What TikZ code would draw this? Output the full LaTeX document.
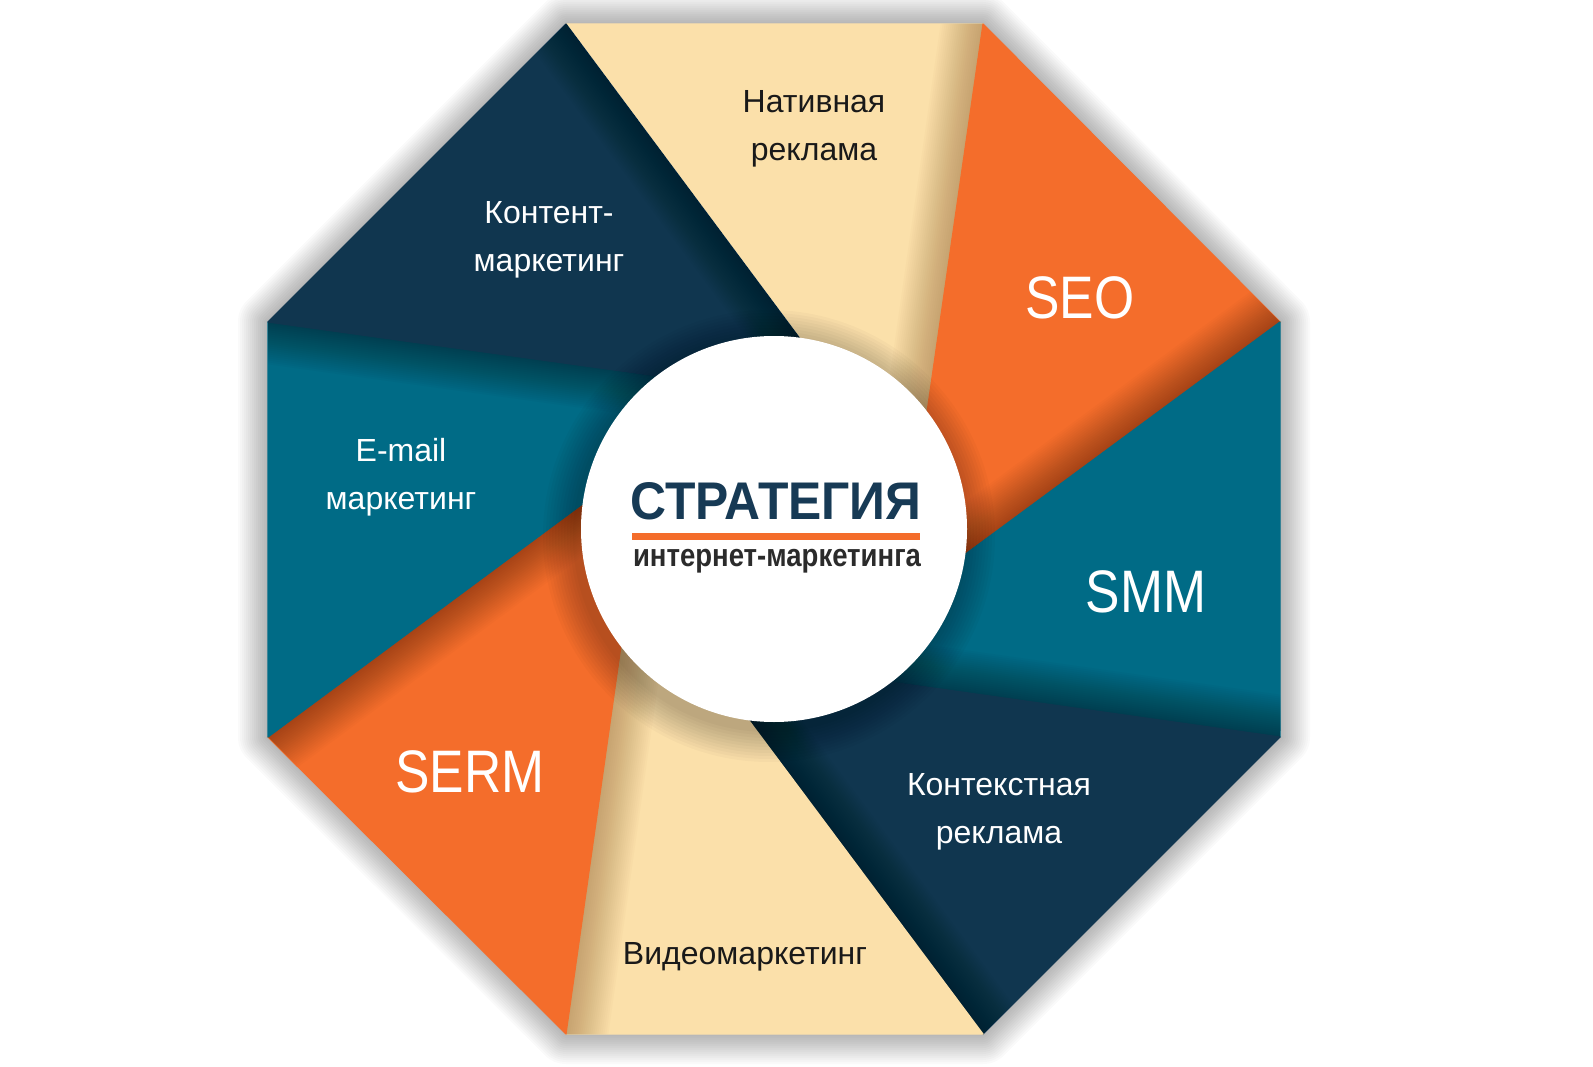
\documentclass[tikz,border=0pt]{standalone}
\usepackage{fontspec}
\setmainfont{Liberation Sans}
\newfontfamily\narrowfont{Liberation Sans}[FakeStretch=0.86]
\newfontfamily\titlefont{Liberation Sans}[FakeStretch=0.94]
\usetikzlibrary{calc}
\definecolor{navyc}{HTML}{10364F}
\definecolor{tealc}{HTML}{006B86}
\definecolor{orngc}{HTML}{F46D2B}
\definecolor{beigec}{HTML}{FBE0AA}
\definecolor{titlec}{HTML}{173A55}
\definecolor{subc}{HTML}{2B2B2B}
\definecolor{tanc}{HTML}{8A5A2A}
\tikzset{
  lbl/.style={align=center, font=\fontsize{32}{48}\selectfont, inner sep=0pt},
  lblw/.style={lbl, text=white},
  lblk/.style={lbl, text=black!90},
  big/.style={inner sep=0pt, text=white, font=\narrowfont\fontsize{60}{60}\selectfont},
}
\begin{document}
\begin{tikzpicture}[x=1pt,y=-1pt]
\useasboundingbox (0,0) rectangle (1593,1067);
\fill[white] (0,0) rectangle (1593,1067);
% octagon vertices
\coordinate (C) at (774,529);
\coordinate (V1) at (566,24);
\coordinate (V2) at (983,24);
\coordinate (V3) at (1280,322);
\coordinate (V4) at (1280,737);
\coordinate (V5) at (983,1034);
\coordinate (V6) at (566,1034);
\coordinate (V7) at (268,737);
\coordinate (V8) at (268,322);
% divider ends on the circle
\coordinate (P1) at (799.2,337.7);
\coordinate (P2) at (927.1,411.5);
\coordinate (P3) at (965.3,554.2);
\coordinate (P4) at (891.5,682.1);
\coordinate (P5) at (748.8,720.3);
\coordinate (P6) at (620.9,646.5);
\coordinate (P7) at (582.7,503.8);
\coordinate (P8) at (656.5,375.9);
% outer drop shadow
\begin{scope}[shift={(2,5)}]
\foreach \w in {60,56,...,4}
  \draw[line width=\w pt, black, opacity=0.018, line join=round]
    (V1) -- (V2) -- (V3) -- (V4) -- (V5) -- (V6) -- (V7) -- (V8) -- cycle;
\end{scope}
% segments
\foreach \a/\b/\col/\sh/\op in {
  1/2/beigec/tanc/0.022,
  2/3/orngc/black/0.014,
  3/4/tealc/black/0.018,
  4/5/navyc/black/0.016,
  5/6/beigec/tanc/0.022,
  6/7/orngc/black/0.014,
  7/8/tealc/black/0.018,
  8/1/navyc/black/0.016}{
  \filldraw[fill=\col, draw=\col, line width=1.2pt, line join=round]
    (V\a) -- (V\b) -- (P\b) -- (C) -- (P\a) -- cycle;
  \begin{scope}
    \clip (V\a) -- (V\b) -- (P\b) -- (C) -- (P\a) -- cycle;
    \foreach \w in {84,80,...,4}
      \draw[line width=\w pt, \sh, opacity=\op] (V\b) -- ($(V\b)!1.3!(P\b)$);
  \end{scope}
}
% circle shadow
\foreach \r in {226,223,...,194}
  \fill[black, opacity=0.022] ($(C)+(-5,7)$) circle (\r);
\node[circle, fill=white, minimum size=386pt, inner sep=0pt] (hub) at (C) {};
% centre texts
\node[inner sep=0pt, text=titlec, font=\titlefont\bfseries\fontsize{53}{53}\selectfont] (title) at (776,501) {СТРАТЕГИЯ};
\draw[orngc, line width=6.5pt] (632,536.5) -- (920,536.5);
\node[inner sep=0pt, text=subc, font=\narrowfont\bfseries\fontsize{32}{32}\selectfont] (sub) at (777,561) {интернет-маркетинга};
% labels
\node[lblk] (nat) at (814,129) {Нативная\\реклама};
\node[big] (seo) at (1080,298) {SEO};
\node[big] (smm) at (1146,592) {SMM};
\node[lblw] (ctx) at (999,812) {Контекстная\\реклама};
\node[lblk] (vid) at (745,957) {Видеомаркетинг};
\node[big] (serm) at (470,772) {SERM};
\node[lblw] (mail) at (401,477) {E-mail\\маркетинг};
\node[lblw] (cnt) at (549,240) {Контент-\\маркетинг};
\end{tikzpicture}
\end{document}
